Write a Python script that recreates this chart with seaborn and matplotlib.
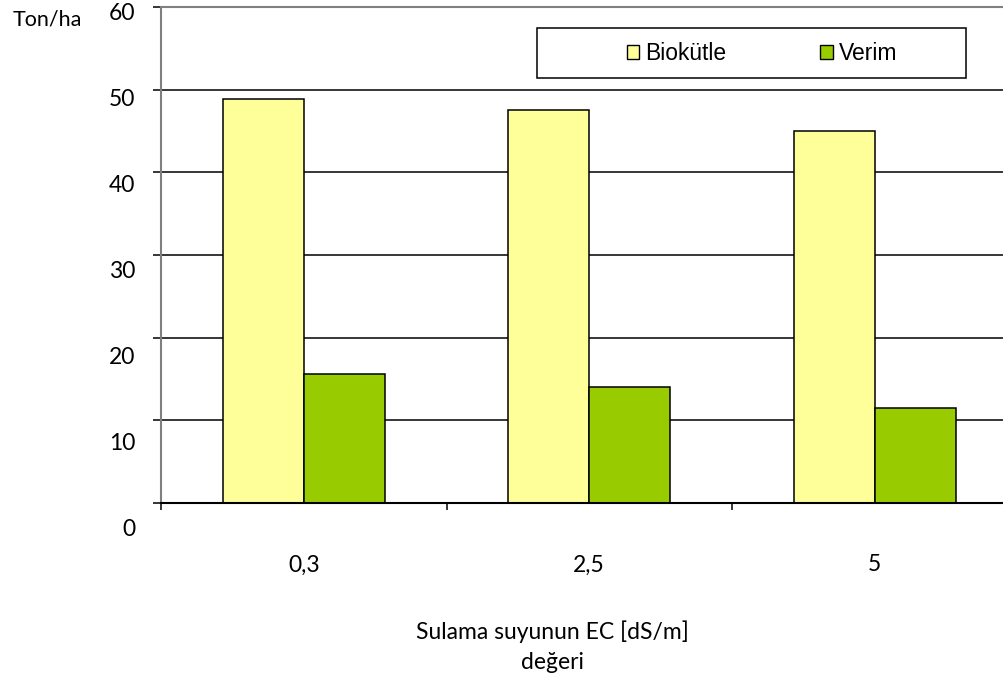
import matplotlib
matplotlib.use("Agg")
import matplotlib.pyplot as plt
from matplotlib.patches import Patch, Rectangle
import pandas as pd
import seaborn as sns

# Verim ve biyokütle (ton/ha), sulama suyu EC düzeylerine göre
ec_values = ["0,3", "2,5", "5"]
biokutle = [48.9, 47.5, 45.0]
verim = [15.6, 14.0, 11.5]
series_names = ["Biokütle", "Verim"]
series_colors = ["#FFFF99", "#99CC00"]
y_ticks = [0, 10, 20, 30, 40, 50, 60]

df = pd.DataFrame({
    "EC": ec_values * 2,
    "Deger": biokutle + verim,
    "Seri": [series_names[0]] * len(ec_values) + [series_names[1]] * len(ec_values),
})

plt.rcParams["font.family"] = ["Lato", "DejaVu Sans"]

W, H = 1004, 679
fig = plt.figure(figsize=(W / 100, H / 100), dpi=100)
fig.patch.set_facecolor("white")

# main plot area (pixel geometry converted to figure fractions)
ax_left, ax_bottom_px, ax_top_px = 161, 503, 7
ax_width_px = 856.5
ax = fig.add_axes([ax_left / W, (H - ax_bottom_px) / H,
                   ax_width_px / W, (ax_bottom_px - ax_top_px) / H])

sns.barplot(data=df, x="EC", y="Deger", hue="Seri", hue_order=series_names,
            palette=series_colors, saturation=1, width=0.567, gap=0,
            edgecolor="black", linewidth=1.1, errorbar=None, legend=False, ax=ax)

ax.set_xlim(-0.5, 2.5)
ax.set_ylim(0, 60)

# y axis: ticks and horizontal grid lines
ax.set_yticks(y_ticks)
ax.tick_params(axis="y", which="major", length=5.8, width=1.1, color="black",
               direction="out", labelleft=False)
ax.grid(axis="y", color="black", linewidth=1.1)
ax.grid(axis="x", visible=False)
ax.set_axisbelow(True)
ticks = ax.yaxis.get_major_ticks()
ticks[0].gridline.set_visible(False)
ticks[-1].gridline.set_visible(False)

# x axis: boundary ticks, labels at category centres
ax.set_xticks([-0.5, 0.5, 1.5, 2.5], labels=[""] * 4)
ax.set_xticks([0, 1, 2], labels=ec_values, minor=True)
ax.tick_params(axis="x", which="major", length=5, width=1.1, color="black",
               direction="out")
ax.tick_params(axis="x", which="minor", length=0, pad=37, labelsize=16.5)

for side in ("left", "top"):
    ax.spines[side].set_color("#808080")
    ax.spines[side].set_linewidth(1.5)
ax.spines["bottom"].set_color("black")
ax.spines["bottom"].set_linewidth(1.5)
ax.spines["right"].set_visible(False)

ax.set_xlabel("Sulama suyunun EC [dS/m]\ndeğeri", fontsize=16.5, linespacing=1.55)
ax.xaxis.set_label_coords((552 - ax_left) / ax_width_px,
                          (ax_bottom_px - 620) / (ax_bottom_px - ax_top_px))
ax.set_ylabel("Ton/ha", rotation=0, fontsize=15.5, ha="center", va="center")
ax.yaxis.set_label_coords((47 - ax_left) / ax_width_px,
                          (ax_bottom_px - 19) / (ax_bottom_px - ax_top_px))

# value labels of the y scale, on their own slightly taller scale
lab_bottom_px, lab_top_px = 528, 11
ax_lab = fig.add_axes([ax_left / W, (H - lab_bottom_px) / H,
                       ax_width_px / W, (lab_bottom_px - lab_top_px) / H],
                      facecolor="none")
ax_lab.set_ylim(0, 60)
ax_lab.set_yticks(y_ticks)
ax_lab.tick_params(axis="y", length=0, pad=18.7, labelsize=16.5)
ax_lab.xaxis.set_visible(False)
for s in ax_lab.spines.values():
    s.set_visible(False)

# legend box
fig.add_artist(Rectangle((537 / W, 1 - 78 / H), (966 - 537) / W, 50 / H,
                         transform=fig.transFigure, facecolor="white",
                         edgecolor="black", linewidth=1.1, zorder=3))
handles = [Patch(facecolor=c, edgecolor="black", linewidth=1.0) for c in series_colors]
leg = fig.legend(handles, series_names, loc="center",
                 bbox_to_anchor=(762 / W, 1 - 54 / H), bbox_transform=fig.transFigure,
                 ncol=2, frameon=False, prop={"family": "Liberation Sans", "size": 16.5},
                 handlelength=0.55, handleheight=0.55, handletextpad=0.25,
                 columnspacing=4.1, borderpad=0)
leg.set_zorder(4)

fig.savefig("out.png", dpi=100, facecolor="white")
